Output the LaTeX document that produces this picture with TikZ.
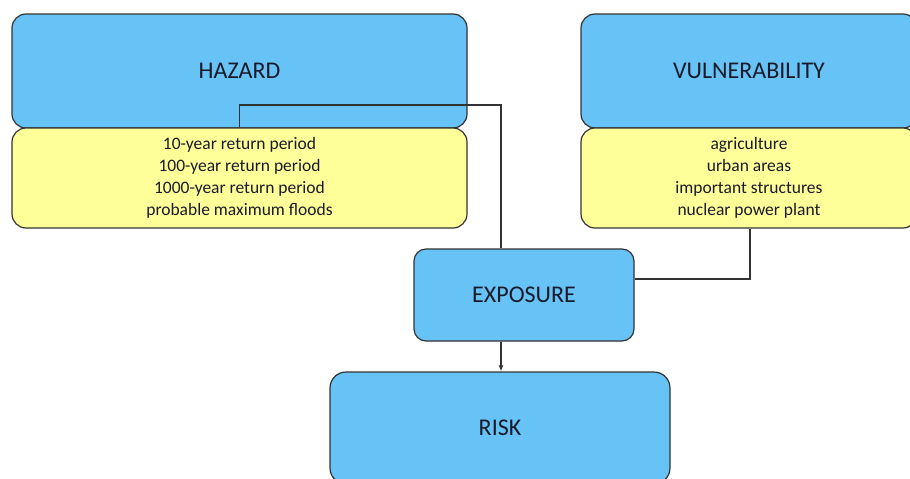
\documentclass[tikz,border=0pt]{standalone}
\usepackage{fontspec}
\setmainfont{Carlito}
\usetikzlibrary{arrows.meta,calc}
\definecolor{boxblue}{HTML}{67C3F6}
\definecolor{boxyellow}{HTML}{FFFF99}
\definecolor{edge}{HTML}{333333}
\definecolor{txt}{HTML}{1A1A2A}
\tikzset{
  bluebox/.style={draw=edge, line width=1.2pt, fill=boxblue, rounded corners=14pt, inner sep=0pt, text=txt, font=\fontsize{24}{28}\selectfont},
  yellowbox/.style={draw=edge, line width=1.2pt, fill=boxyellow, rounded corners=14pt, inner sep=0pt, text=txt, align=center, font=\fontsize{17.5}{22}\selectfont},
  conn/.style={draw=edge, line width=1.4pt},
}
\begin{document}
\begin{tikzpicture}[x=1pt,y=-1pt]
\useasboundingbox (0,0) rectangle (910,479);
\clip (0,0) rectangle (910,479);
\fill[white] (0,0) rectangle (910,479);
% hazard
\node[bluebox, minimum width=455pt, minimum height=114pt] (haz) at (239.5,71) {HAZARD};
\node[yellowbox, minimum width=455pt, minimum height=100pt] (hazy) at (239.5,178) {10-year return period\\100-year return period\\1000-year return  period\\probable maximum  floods};
% vulnerability
\node[bluebox, minimum width=336pt, minimum height=114pt] (vul) at (749,71) {VULNERABILITY};
\node[yellowbox, minimum width=336pt, minimum height=100pt] (vuly) at (749,178) {agriculture\\urban areas\\important structures\\nuclear power plant};
% exposure
\node[bluebox, rounded corners=12pt, minimum width=220pt, minimum height=92pt] (expo) at (524,295) {EXPOSURE};
% risk
\node[bluebox, rounded corners=16pt, minimum width=340pt, minimum height=112pt] (risk) at (500,428) {RISK};
% connectors
\coordinate (hb) at (501,105);
\draw[conn] (hazy.north) |- (hb) -- (hb |- expo.north);
\coordinate (vb) at (750,279);
\draw[conn] (vb |- vuly.south) |- (expo.east |- vb);
\draw[conn, -{Latex[length=6pt,width=5pt]}] (hb |- expo.south) -- (hb |- risk.north);
\end{tikzpicture}
\end{document}
